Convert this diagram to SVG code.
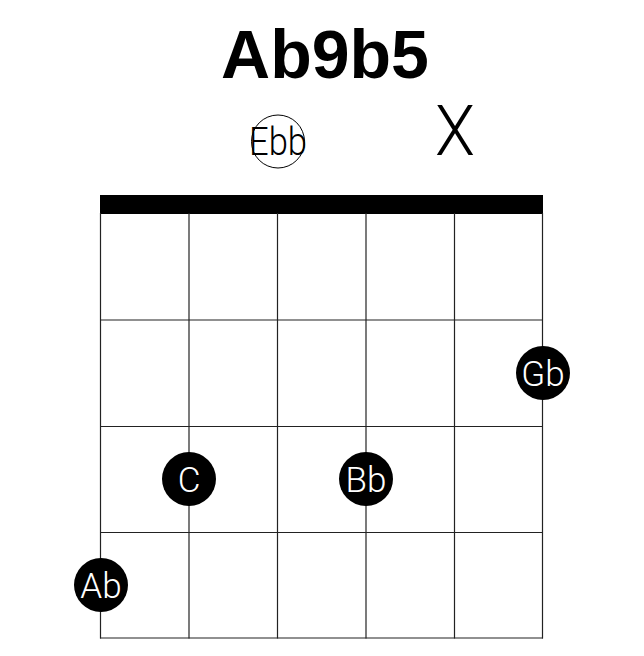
<svg xmlns="http://www.w3.org/2000/svg" width="644" height="656" viewBox="0 0 644 656">
<style>
.title{font-family:"Liberation Sans",Arial,sans-serif;font-weight:bold;font-size:68px;fill:#000;text-anchor:middle}
.grid line{stroke:#222;stroke-width:1.2}
.dot{fill:#000}
.lbl{font-family:Roboto,"Liberation Sans",sans-serif;font-weight:300;font-size:35px;fill:#fff;text-anchor:middle}
.open{fill:none;stroke:#000;stroke-width:1}
.olbl{font-family:Roboto,"Liberation Sans",sans-serif;font-weight:300;font-size:39px;fill:#000;text-anchor:middle}
.mute{font-family:Roboto,"Liberation Sans",sans-serif;font-weight:300;font-size:70px;fill:#000;text-anchor:middle}
</style>
<rect width="644" height="656" fill="#fff"/>
<text class="title" x="325" y="78">Ab9b5</text>
<g id="grid" class="grid">
<rect x="100" y="195" width="443" height="19" fill="#000"/>
<line x1="100.5" y1="213" x2="100.5" y2="638.5"/>
<line x1="189" y1="213" x2="189" y2="638.5"/>
<line x1="277.5" y1="213" x2="277.5" y2="638.5"/>
<line x1="366" y1="213" x2="366" y2="638.5"/>
<line x1="454.5" y1="213" x2="454.5" y2="638.5"/>
<line x1="542.5" y1="213" x2="542.5" y2="638.5"/>
<line x1="100" y1="320" x2="543" y2="320"/>
<line x1="100" y1="426.5" x2="543" y2="426.5"/>
<line x1="100" y1="532.5" x2="543" y2="532.5"/>
<line x1="100" y1="638" x2="543" y2="638"/>
</g>
<g id="open-ebb">
<circle class="open" cx="278" cy="141.5" r="26.5"/>
<text class="olbl" x="278" y="155" textLength="58" lengthAdjust="spacingAndGlyphs">Ebb</text>
</g>
<g id="mute-x">
<text class="mute" x="455" y="155" textLength="40" lengthAdjust="spacingAndGlyphs">X</text>
</g>
<g id="dot-gb">
<circle class="dot" cx="543" cy="373" r="27"/>
<text class="lbl" x="543" y="386">Gb</text>
</g>
<g id="dot-c">
<circle class="dot" cx="189" cy="479" r="27"/>
<text class="lbl" x="189" y="492">C</text>
</g>
<g id="dot-bb">
<circle class="dot" cx="366" cy="479" r="27"/>
<text class="lbl" x="366" y="492">Bb</text>
</g>
<g id="dot-ab">
<circle class="dot" cx="101" cy="585" r="27"/>
<text class="lbl" x="101" y="598">Ab</text>
</g>
</svg>
